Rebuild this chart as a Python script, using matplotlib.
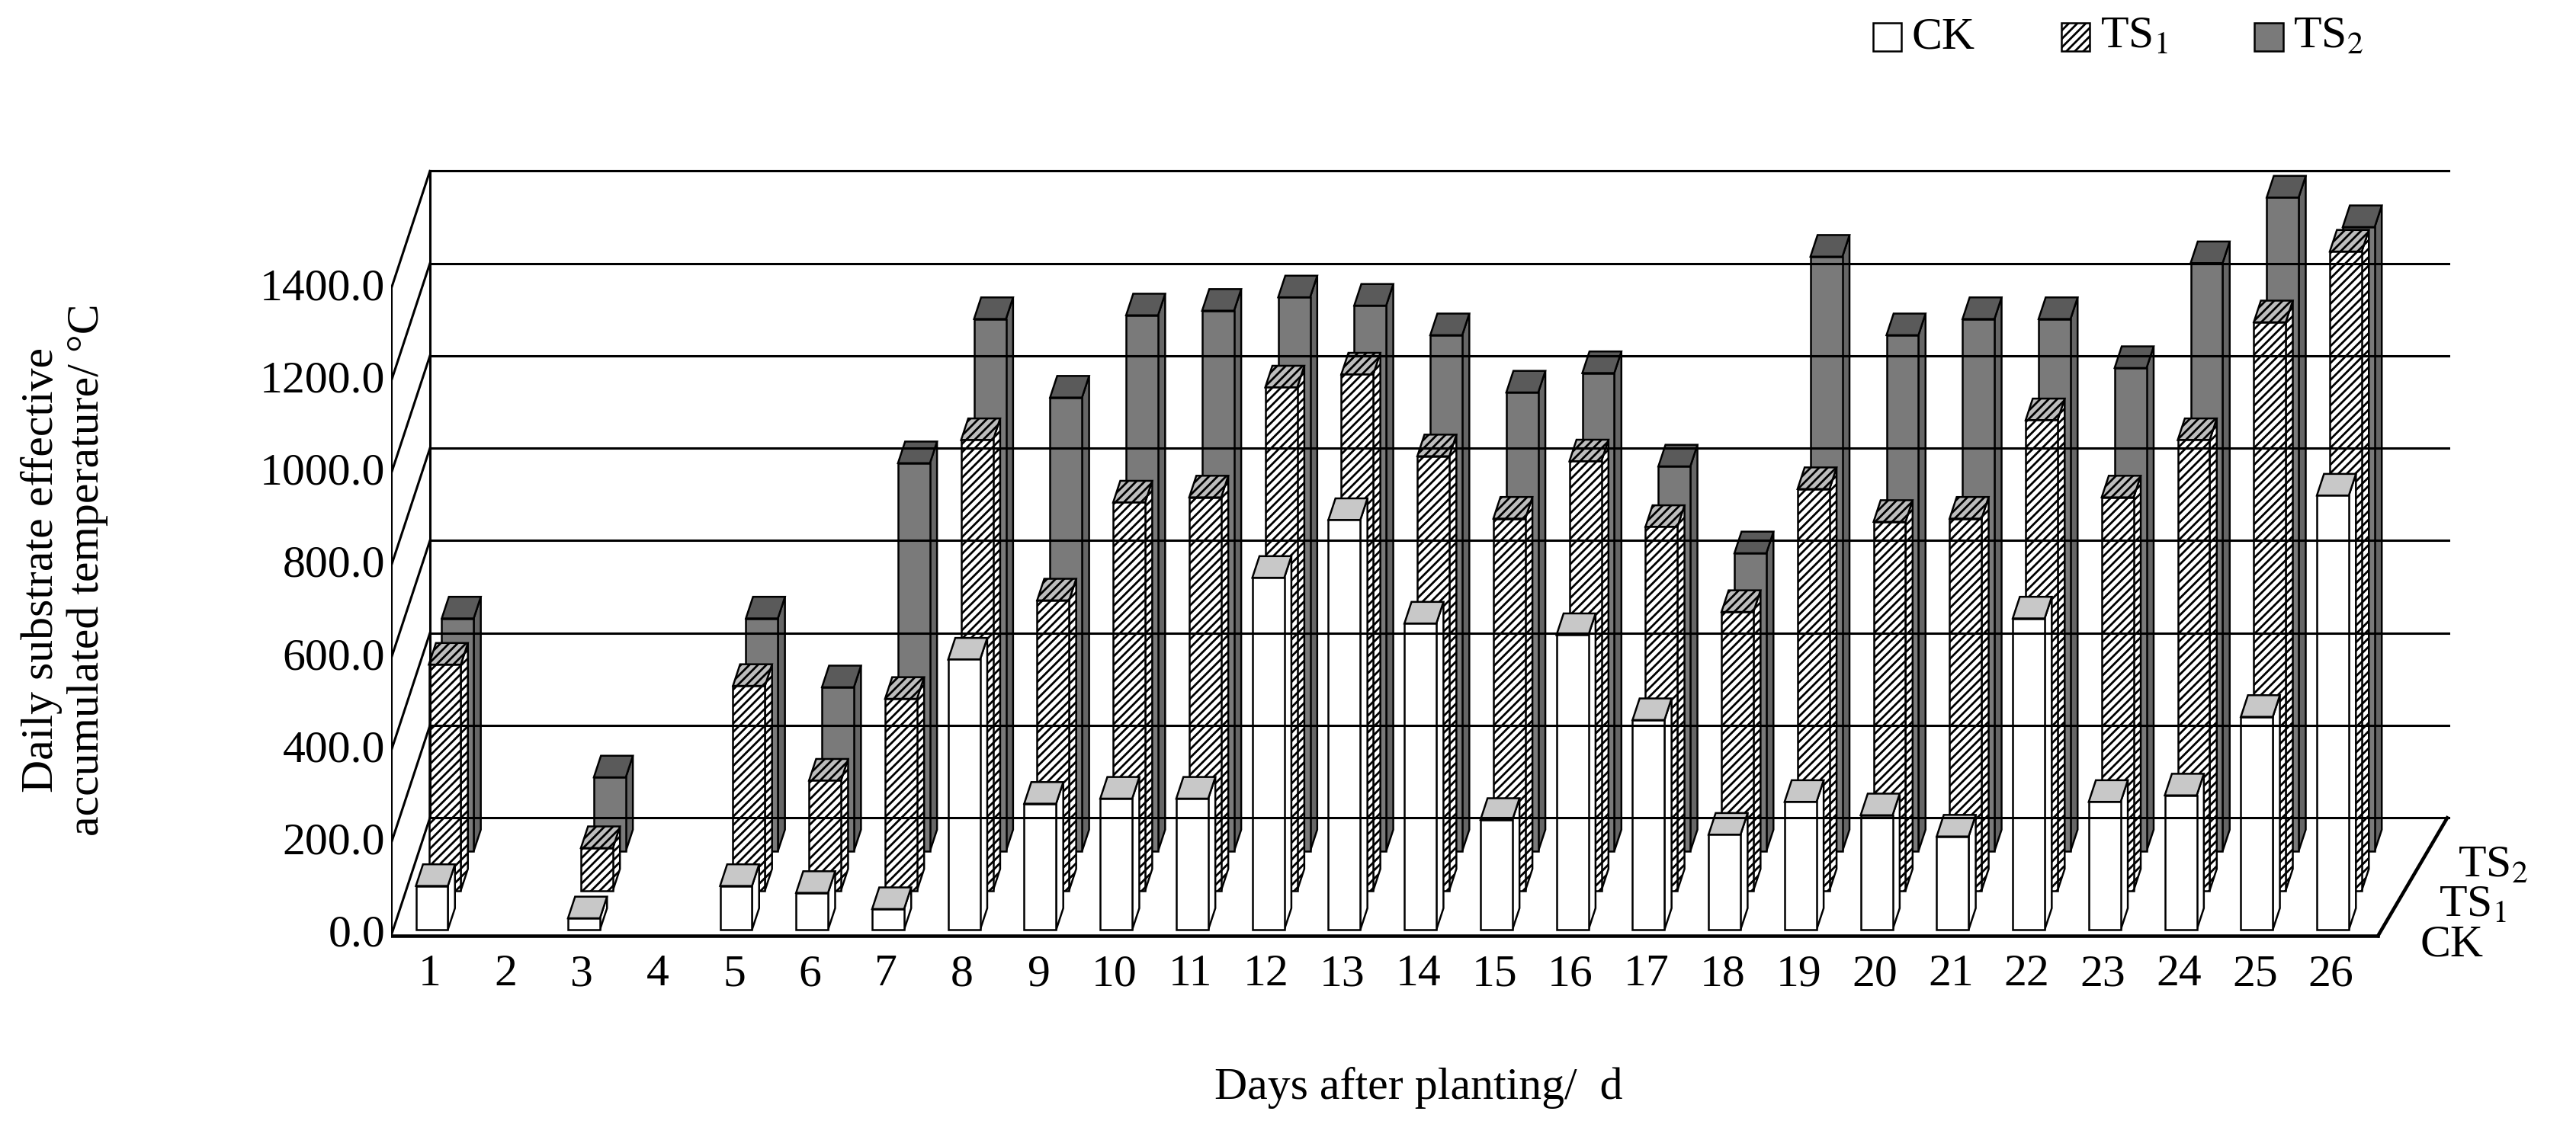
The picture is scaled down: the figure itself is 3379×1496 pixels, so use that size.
import matplotlib
matplotlib.use("Agg")
import matplotlib.pyplot as plt
from matplotlib.patches import Polygon, Rectangle

days = list(range(1, 27))
ck = [95, 0, 25, 0, 95, 80, 45, 585, 273, 284, 284, 762, 887, 663, 238, 638, 454, 206, 277, 248, 202, 674, 277, 291, 461, 940]
ts1 = [489, 0, 92, 0, 443, 238, 415, 975, 628, 840, 851, 1089, 1117, 940, 805, 929, 787, 603, 869, 798, 805, 1018, 851, 975, 1230, 1383]
ts2 = [504, 0, 160, 0, 504, 355, 840, 1152, 982, 1160, 1170, 1199, 1181, 1117, 993, 1035, 833, 645, 1287, 1117, 1152, 1152, 1046, 1273, 1415, 1351]
series_names = ["CK", "TS$_1$", "TS$_2$"]
yticks = [0, 200, 400, 600, 800, 1000, 1200, 1400]

plt.rcParams['font.family'] = ['Liberation Serif', 'DejaVu Serif']
plt.rcParams['mathtext.fontset'] = 'stix'
plt.rcParams['hatch.linewidth'] = 2.0

FS = 43
fig = plt.figure(figsize=(33.8, 14.96), dpi=100)
ax = fig.add_axes([0.1518, 0.163, 0.800, 0.689])
x0, x1 = 0.49, 27.6
ax.set_xlim(x0, x1)
ax.set_ylim(-40, 1660)
ax.axis('off')

DX, DY = 0.51, 255
xfront_right = 26.62
lw = 2.2
for v in yticks:
    ax.plot([x0, x0 + DX], [v, v + DY], color='black', lw=lw)
    ax.plot([x0 + DX, x1 - 0.05], [v + DY, v + DY], color='black', lw=lw)
    ax.text(x0 - 0.08, v, f"{v:.1f}", ha='right', va='center', fontsize=FS)
ax.plot([x0 + DX, x1 - 0.05], [1400 + DY, 1400 + DY], color='black', lw=lw)
ax.plot([x0, x0], [0, 1400], color='black', lw=lw)
ax.plot([x0 + DX, x0 + DX], [DY, 1400 + DY], color='black', lw=lw)
ax.plot([x0, xfront_right], [0, 0], color='black', lw=lw * 1.5)
ax.plot([xfront_right, xfront_right + DX + 0.4], [0, DY], color='black', lw=lw * 1.5)

slot_dx, slot_dy = DX / 3, DY / 3
bw = 0.42
bd = 0.55
styles = [
    dict(front='white', top='#c8c8c8', side='white', hatch=None),
    dict(front='white', top='#bdbdbd', side='white', hatch='///'),
    dict(front='#7a7a7a', top='#5a5a5a', side='#666666', hatch=None),
]
data = [ck, ts1, ts2]
for k in [2, 1, 0]:
    st = styles[k]
    ox = (k + 0.15) * slot_dx
    oy = (k + 0.15) * slot_dy
    ddx, ddy = bd * slot_dx, bd * slot_dy
    for d, v in zip(days, data[k]):
        if v <= 0:
            continue
        xl = d - bw / 2 + ox
        xr = xl + bw
        yb = oy
        yt = oy + v
        ax.add_patch(Polygon([(xr, yb), (xr + ddx, yb + ddy), (xr + ddx, yt + ddy), (xr, yt)],
                             facecolor=st['side'], edgecolor='black', lw=1.8, hatch=st['hatch']))
        ax.add_patch(Polygon([(xl, yt), (xr, yt), (xr + ddx, yt + ddy), (xl + ddx, yt + ddy)],
                             facecolor=st['top'], edgecolor='black', lw=1.8, hatch=st['hatch']))
        ax.add_patch(Rectangle((xl, yb), bw, v, facecolor=st['front'], edgecolor='black',
                               lw=1.8, hatch=st['hatch']))

for d in days:
    ax.text(d, -85, str(d), ha='center', va='center', fontsize=FS, clip_on=False)
ax.text(14, -330, "Days after planting/  d", ha='center', va='center', fontsize=FS, clip_on=False)
fig.text(0.025, 0.50, "Daily substrate effective\naccumulated temperature/ °C", rotation=90,
         ha='center', va='center', fontsize=FS, linespacing=1.15)

for k, name in enumerate(series_names):
    ax.text(xfront_right + 0.55 + k * 0.25, -20 + k * 85, name, ha='left', va='center',
            fontsize=FS, clip_on=False)

leg_x = [0.727, 0.800, 0.875]
for k, name in enumerate(series_names):
    st = styles[k]
    fig.patches.append(Rectangle((leg_x[k], 0.955), 0.011, 0.025, transform=fig.transFigure,
                                 facecolor=st['front'], edgecolor='black', lw=1.8,
                                 hatch=st['hatch']))
    fig.text(leg_x[k] + 0.015, 0.967, name, ha='left', va='center', fontsize=FS)

fig.savefig("out.png", dpi=100)
